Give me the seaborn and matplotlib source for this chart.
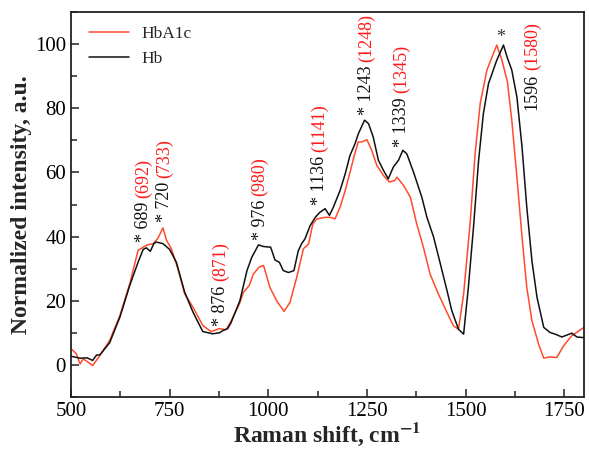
import matplotlib
matplotlib.use("Agg")
import matplotlib.pyplot as plt
from matplotlib.ticker import MultipleLocator
import seaborn as sns
import pandas as pd

# ---- data ----
hb_shift = [500, 523, 541, 555, 565, 573, 598, 624, 649, 670, 683, 691, 701, 710, 716,
            733, 750, 767, 788, 809, 834, 859, 876, 885, 897, 905, 928, 946, 958, 975,
            988, 1006, 1017, 1028, 1038, 1051, 1065, 1076, 1085, 1093, 1106, 1119, 1131,
            1144, 1155, 1165, 1182, 1195, 1207, 1220, 1228, 1244, 1254, 1266, 1279, 1292,
            1304, 1317, 1330, 1341, 1351, 1368, 1389, 1402, 1419, 1436, 1453, 1465, 1482,
            1495, 1507, 1520, 1533, 1545, 1558, 1567, 1579, 1596, 1605, 1617, 1630, 1643,
            1655, 1668, 1681, 1698, 1714, 1727, 1744, 1769, 1782, 1800]
hb_int = [2.7, 2.1, 2.2, 1.4, 3.1, 3.1, 6.9, 14.9, 24.8, 32, 36, 36.5, 35.4, 37.8, 38.3,
          37.8, 36, 32, 22.7, 16.5, 10.4, 9.7, 10, 10.7, 11.3, 13, 20, 29.4, 33.5, 37.4,
          36.9, 36.7, 32.7, 32, 29.4, 28.8, 29.4, 35.6, 37.9, 39.3, 43.4, 46, 47.6,
          48.7, 46.6, 49.2, 54.4, 59.6, 65.3, 69, 72, 76.3, 75.2, 71, 63.8, 60.6,
          58, 61.7, 63.8, 66.9, 65.8, 60.1, 52.3, 46, 39.8, 31.5, 23.1, 16.9, 11.1,
          9.6, 24.2, 42.9, 63.8, 78.3, 87.7, 90.8, 95, 99.7, 96, 91.9, 83.5, 67.9,
          49.2, 32.5, 21, 11.7, 10.1, 9.6, 8.7, 9.9, 8.7, 8.5]

a1c_shift = [500, 514, 523, 531, 544, 555, 573, 598, 624, 649, 670, 691, 708, 720, 733,
             742, 754, 771, 788, 809, 834, 855, 876, 893, 905, 927, 937, 952, 962, 977,
             988, 1004, 1021, 1040, 1055, 1072, 1089, 1102, 1113, 1123, 1144, 1157, 1169,
             1182, 1195, 1207, 1218, 1228, 1237, 1250, 1262, 1275, 1292, 1307, 1321, 1326,
             1343, 1360, 1376, 1393, 1410, 1431, 1453, 1469, 1482, 1495, 1512, 1524, 1537,
             1554, 1567, 1579, 1592, 1606, 1617, 1630, 1643, 1655, 1668, 1685, 1698, 1714,
             1731, 1748, 1769, 1800]
a1c_int = [5.1, 3.4, 0.3, 1.9, 0.8, -0.2, 2.9, 7.6, 15.4, 25.3, 35.7, 37.3, 37.8, 39.4, 42.7,
           38.9, 36.3, 30, 22.2, 18, 12.3, 10.4, 11.3, 11, 13.5, 19.1, 22.6, 24.8, 28.3, 30.5,
           31, 24.2, 20, 16.7, 19.5, 27.3, 36.2, 37.7, 44, 45.5, 46, 46, 45.5,
           49.2, 54.4, 60, 65.3, 69.5, 69.5, 70.2, 66.9, 62.2, 59, 57, 57.5, 58.5,
           55.9, 52.3, 44, 36.7, 28.3, 22.1, 16.3, 12.2, 11.1, 22.1, 45, 65.8, 81.5,
           91.9, 96, 99.7, 95, 88.2, 76.3, 58.5, 39.8, 24.2, 13.8, 6.5, 2.1, 2.5,
           2.3, 5.9, 9.1, 11.7]

series_names = ["HbA1c", "Hb"]
peak_hb = ["689", "720", "876", "976", "1136", "1243", "1339", "1596"]
peak_a1c = ["692", "733", "871", "980", "1141", "1248", "1345", "1580"]
x_ticks = [500, 750, 1000, 1250, 1500, 1750]
y_ticks = [0, 20, 40, 60, 80, 100]

# annotation anchor points (x, bottom of text)
ann_pos = [(685, 38.2), (736, 44.5), (878, 12.2), (979, 38.8),
           (1131, 49.7), (1250, 77.8), (1337, 68.0), (1669, 79.4)]

df = pd.concat([
    pd.DataFrame({"shift": a1c_shift, "intensity": a1c_int, "sample": series_names[0]}),
    pd.DataFrame({"shift": hb_shift, "intensity": hb_int, "sample": series_names[1]}),
], ignore_index=True)

sns.set_theme(style="ticks")
plt.rcParams["font.family"] = ["Liberation Serif", "DejaVu Serif"]
plt.rcParams["mathtext.fontset"] = "stix"

fig = plt.figure(figsize=(5.89, 4.5), dpi=100)
ax = fig.add_axes([0.1205, 0.1178, 0.871, 0.8555])

RED = "#FF4B2B"
sns.lineplot(data=df, x="shift", y="intensity", hue="sample", estimator=None,
             palette={"HbA1c": RED, "Hb": "#111111"}, linewidth=1.1, ax=ax)

ax.set_xlim(500, 1800)
ax.set_ylim(-10, 110)
ax.set_xticks(x_ticks)
ax.set_yticks(y_ticks)
ax.xaxis.set_minor_locator(MultipleLocator(125))
ax.yaxis.set_minor_locator(MultipleLocator(10))
ax.tick_params(which="both", direction="in", width=1.1, colors="#222222",
               labelsize=15, labelcolor="black", top=False, right=False)
ax.tick_params(which="major", length=6)
ax.tick_params(which="minor", length=4)
for s in ax.spines.values():
    s.set_linewidth(1.3)
    s.set_color("#222222")
    s.set_visible(True)

ax.set_xlabel(r"Raman shift, cm$^{\mathbf{-1}}$", fontsize=17, fontweight="bold", labelpad=0)
ax.set_ylabel("Normalized intensity, a.u.", fontsize=17, fontweight="bold", labelpad=2)

leg = ax.legend(loc="upper left", bbox_to_anchor=(0.005, 1.005), frameon=False,
                fontsize=12.5, handlelength=2.3, labelspacing=0.5, handletextpad=0.7)

for (x, y), hb, a1c in zip(ann_pos, peak_hb, peak_a1c):
    txt = hb if hb == "1596" else "* " + hb
    t = ax.text(x, y, txt, rotation=90, ha="center", va="bottom",
                fontsize=13, color="#111111")
    ax.annotate("(" + a1c + ")", xy=(0.5, 1.0), xycoords=t, xytext=(0, 3),
                textcoords="offset points", rotation=90, ha="center", va="bottom",
                fontsize=13, color="#FF1A1A")
ax.text(1589, 99.5, "*", ha="center", va="bottom", fontsize=13, color="#333333")

fig.savefig("out.png", dpi=100)
